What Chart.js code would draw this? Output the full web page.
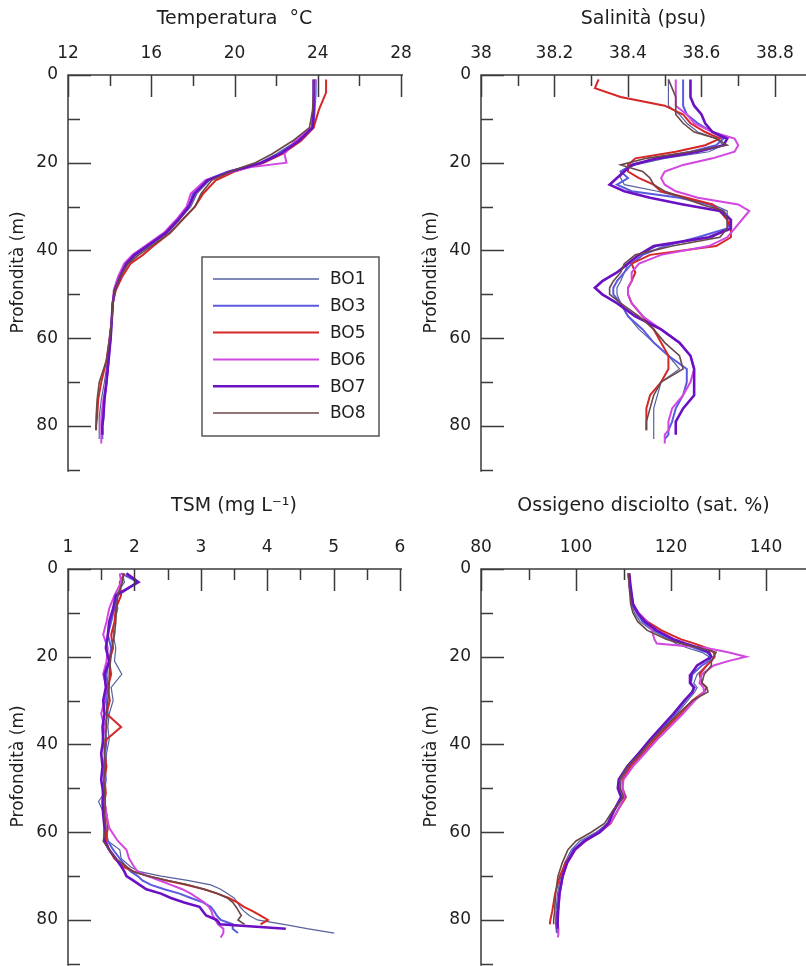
<!DOCTYPE html>
<html lang="it">
<head>
<meta charset="UTF-8">
<title>Profili BO</title>
<script src="https://cdn.jsdelivr.net/npm/chart.js@4"></script>
<style>
  html, body { margin: 0; padding: 0; background: #fff; overflow: hidden; }
  #wrap { position: relative; width: 806px; height: 966px; overflow: hidden; background: #fff; }
  canvas { position: absolute; }
</style>
</head>
<body>
<div id="wrap">
  <canvas id="cTemp" width="425" height="490" style="left:0px;top:0px"></canvas>
  <canvas id="cSal" width="393" height="490" style="left:413px;top:0px"></canvas>
  <canvas id="cTsm" width="425" height="495" style="left:0px;top:489px"></canvas>
  <canvas id="cOxy" width="393" height="495" style="left:413px;top:489px"></canvas>
</div>
<script>
// stations
var stationNames = ['BO1', 'BO3', 'BO5', 'BO6', 'BO7', 'BO8'];
var stationColors = ['#56619f', '#5a5ae0', '#d62626', '#d246e2', '#6c10c4', '#6b4848'];
var stationWidths = [1.2, 2, 2, 2, 2.6, 1.6];

// depth axis (m)
var depthTicks = [0, 10, 20, 30, 40, 50, 60, 70, 80, 90];
var depthLabels = [0, 20, 40, 60, 80];

// Temperatura °C
var tempTicks = [12, 14, 16, 18, 20, 22, 24, 26, 28];
var tempLabels = [12, 16, 20, 24, 28];
var depthTemp = [1, 4, 8, 12, 15, 18, 20, 21, 22, 24, 27, 30, 33, 36, 39, 41, 43, 46, 49, 52, 56, 60, 65, 70, 74, 78, 80, 81, 82, 83, 84];
var tempBO1 = [23.85, 23.85, 23.8, 23.75, 23.0, 22.0, 21.2, 20.6, 19.9, 18.8, 18.2, 17.9, 17.35, 16.8, 15.9, 15.3, 14.85, 14.5, 14.25, 14.15, 14.1, 14.0, 13.9, 13.75, 13.6, 13.5, 13.5, 13.5, 13.5, 13.5];
var tempBO3 = [23.9, 23.9, 23.85, 23.8, 23.1, 22.1, 21.3, 20.5, 19.7, 18.6, 18.0, 17.8, 17.3, 16.7, 15.8, 15.2, 14.8, 14.45, 14.25, 14.15, 14.1, 14.05, 13.95, 13.85, 13.75, 13.7, 13.65, 13.65, 13.65, 13.65];
var tempBO5 = [24.4, 24.4, 24.05, 23.8, 23.2, 22.3, 21.4, 20.7, 20.0, 19.1, 18.5, 18.1, 17.5, 16.9, 16.1, 15.6, 15.0, 14.6, 14.3, 14.15, 14.1, 14.0, 13.85, 13.6, 13.45, 13.4, 13.35, 13.35];
var tempBO6 = [23.9, 23.85, 23.8, 23.7, 22.9, 22.4, 22.5, 20.8, 19.9, 18.6, 17.9, 17.7, 17.2, 16.6, 15.7, 15.1, 14.7, 14.4, 14.2, 14.15, 14.1, 14.0, 13.95, 13.85, 13.7, 13.6, 13.6, 13.6, 13.6, 13.6, 13.6];
var tempBO7 = [23.8, 23.8, 23.8, 23.75, 23.1, 22.2, 21.3, 20.6, 19.8, 18.7, 18.1, 17.8, 17.3, 16.7, 15.8, 15.2, 14.8, 14.5, 14.25, 14.15, 14.1, 14.05, 13.95, 13.85, 13.75, 13.7, 13.65, 13.65, 13.65];
var tempBO8 = [23.8, 23.8, 23.75, 23.6, 22.8, 21.8, 21.0, 20.4, 19.8, 18.9, 18.4, 18.1, 17.5, 16.9, 16.0, 15.4, 14.9, 14.5, 14.25, 14.15, 14.1, 14.0, 13.85, 13.5, 13.4, 13.35, 13.35, 13.35];

// Salinità (psu)
var salTicks = [38, 38.1, 38.2, 38.3, 38.4, 38.5, 38.6, 38.7, 38.8];
var salLabels = [38, 38.2, 38.4, 38.6, 38.8];
var depthSal = [1, 3, 5, 7, 9, 11, 13, 14.5, 16, 17.5, 19, 20.5, 22, 23.5, 25, 26.5, 28, 29.5, 31, 33, 35, 37, 39, 41, 43, 45, 47, 48.5, 50, 52, 55, 58, 61, 64, 67, 70, 73, 76, 79, 81, 82, 83, 84];
var salBO1 = [38.51, 38.51, 38.51, 38.51, 38.54, 38.56, 38.59, 38.64, 38.66, 38.62, 38.50, 38.42, 38.38, 38.38, 38.39, 38.48, 38.55, 38.63, 38.67, 38.67, 38.67, 38.63, 38.48, 38.43, 38.40, 38.39, 38.38, 38.37, 38.37, 38.38, 38.40, 38.43, 38.47, 38.51, 38.54, 38.49, 38.48, 38.47, 38.47, 38.47, 38.47, 38.47];
var salBO3 = [38.55, 38.55, 38.55, 38.55, 38.56, 38.59, 38.63, 38.66, 38.64, 38.57, 38.48, 38.41, 38.38, 38.40, 38.37, 38.41, 38.54, 38.62, 38.66, 38.68, 38.67, 38.59, 38.50, 38.44, 38.41, 38.39, 38.37, 38.36, 38.36, 38.38, 38.40, 38.44, 38.47, 38.51, 38.56, 38.56, 38.55, 38.53, 38.52, 38.51, 38.51, 38.50];
var salBO5 = [38.32, 38.31, 38.38, 38.50, 38.55, 38.57, 38.61, 38.65, 38.61, 38.53, 38.42, 38.40, 38.40, 38.43, 38.47, 38.49, 38.56, 38.63, 38.65, 38.67, 38.68, 38.68, 38.64, 38.46, 38.41, 38.42, 38.41, 38.40, 38.40, 38.41, 38.44, 38.47, 38.49, 38.51, 38.51, 38.49, 38.46, 38.45, 38.45, 38.45];
var salBO6 = [38.53, 38.53, 38.53, 38.53, 38.56, 38.58, 38.63, 38.69, 38.70, 38.69, 38.63, 38.55, 38.50, 38.49, 38.50, 38.53, 38.59, 38.70, 38.73, 38.71, 38.69, 38.67, 38.62, 38.49, 38.43, 38.41, 38.41, 38.40, 38.40, 38.41, 38.44, 38.49, 38.54, 38.57, 38.58, 38.57, 38.55, 38.52, 38.51, 38.51, 38.50, 38.50, 38.50];
var salBO7 = [38.57, 38.57, 38.57, 38.58, 38.60, 38.61, 38.63, 38.67, 38.66, 38.59, 38.48, 38.41, 38.39, 38.37, 38.35, 38.39, 38.46, 38.55, 38.65, 38.68, 38.68, 38.62, 38.47, 38.43, 38.40, 38.37, 38.33, 38.31, 38.33, 38.37, 38.42, 38.49, 38.54, 38.57, 38.58, 38.58, 38.58, 38.55, 38.53, 38.53, 38.53];
var salBO8 = [38.51, 38.52, 38.53, 38.53, 38.53, 38.55, 38.58, 38.64, 38.67, 38.57, 38.45, 38.38, 38.44, 38.46, 38.47, 38.50, 38.55, 38.60, 38.66, 38.67, 38.67, 38.65, 38.52, 38.42, 38.39, 38.38, 38.36, 38.35, 38.35, 38.38, 38.43, 38.47, 38.50, 38.54, 38.55, 38.49, 38.47, 38.46, 38.45, 38.45];

// TSM (mg L-1)
var tsmTicks = [1, 1.5, 2, 2.5, 3, 3.5, 4, 4.5, 5, 5.5, 6];
var tsmLabels = [1, 2, 3, 4, 5, 6];
var depthTsm = [1, 3, 6, 9, 12, 15, 18, 21, 24, 27, 30, 33, 36, 39, 42, 45, 48, 51, 53, 56, 59, 62, 64, 66, 68, 69, 70, 71, 72, 73, 74, 75, 76, 77, 78, 79, 80, 81, 82, 83, 84];
var tsmBO1 = [1.82, 1.85, 1.72, 1.75, 1.70, 1.68, 1.72, 1.70, 1.81, 1.65, 1.68, 1.62, 1.60, 1.62, 1.58, 1.57, 1.56, 1.55, 1.46, 1.55, 1.57, 1.60, 1.78, 1.80, 1.95, 2.08, 2.40, 2.80, 3.15, 3.30, 3.40, 3.50, 3.55, 3.59, 3.65, 3.73, 3.85, 4.25, 4.60, 5.01];
var tsmBO3 = [1.80, 2.05, 1.75, 1.70, 1.65, 1.60, 1.65, 1.62, 1.58, 1.60, 1.57, 1.60, 1.55, 1.58, 1.56, 1.55, 1.57, 1.54, 1.56, 1.55, 1.56, 1.60, 1.68, 1.78, 1.88, 1.95, 2.05, 2.12, 2.25, 2.45, 2.68, 2.85, 3.03, 3.15, 3.20, 3.24, 3.30, 3.48, 3.48, 3.56];
var tsmBO5 = [1.85, 1.78, 1.80, 1.72, 1.70, 1.65, 1.68, 1.62, 1.65, 1.60, 1.63, 1.58, 1.80, 1.57, 1.55, 1.58, 1.55, 1.57, 1.55, 1.58, 1.60, 1.57, 1.62, 1.70, 1.85, 2.00, 2.20, 2.48, 2.78, 3.05, 3.25, 3.42, 3.55, 3.65, 3.78, 3.90, 4.01, 3.90];
var tsmBO6 = [1.78, 1.80, 1.70, 1.62, 1.58, 1.53, 1.60, 1.58, 1.53, 1.58, 1.55, 1.50, 1.55, 1.52, 1.56, 1.53, 1.55, 1.52, 1.55, 1.58, 1.62, 1.75, 1.88, 1.92, 2.00, 2.05, 2.20, 2.38, 2.55, 2.72, 2.85, 2.95, 3.05, 3.12, 3.16, 3.18, 3.22, 3.26, 3.34, 3.34, 3.30];
var tsmBO7 = [1.88, 2.06, 1.72, 1.68, 1.62, 1.60, 1.57, 1.62, 1.55, 1.57, 1.53, 1.55, 1.52, 1.53, 1.50, 1.52, 1.50, 1.53, 1.52, 1.53, 1.55, 1.55, 1.62, 1.72, 1.81, 1.85, 1.88, 1.98, 2.08, 2.18, 2.40, 2.55, 2.75, 2.98, 3.03, 3.08, 3.24, 3.29, 4.28];
var tsmBO8 = [1.84, 1.82, 1.75, 1.73, 1.72, 1.70, 1.66, 1.64, 1.62, 1.62, 1.60, 1.58, 1.58, 1.56, 1.55, 1.56, 1.54, 1.55, 1.56, 1.55, 1.57, 1.53, 1.62, 1.72, 1.90, 1.98, 2.20, 2.50, 2.80, 3.05, 3.25, 3.40, 3.48, 3.53, 3.57, 3.61, 3.56, 3.66];

// Ossigeno disciolto (sat. %)
var oxyTicks = [80, 90, 100, 110, 120, 130, 140];
var oxyLabels = [80, 100, 120, 140];
var depthOxy = [1, 4, 8, 10, 12, 14, 16, 17, 18, 19, 20, 21, 22, 24, 26, 27, 28, 30, 33, 36, 39, 42, 45, 48, 50, 52, 55, 58, 60, 62, 64, 67, 70, 74, 78, 80, 81, 82, 83, 84];
var oxyBO1 = [111.0, 111.2, 111.7, 112.3, 113.5, 116.0, 119.5, 121.0, 123.5, 126.5, 128.0, 128.5, 127.5, 125.5, 124.8, 125.5, 125.0, 123.5, 121.2, 118.6, 116.0, 113.8, 111.2, 109.5, 109.3, 110.0, 108.2, 106.8, 104.2, 100.8, 99.0, 97.6, 96.8, 96.1, 95.8, 95.7, 95.7, 95.8, 95.9];
var oxyBO3 = [111.0, 111.3, 111.8, 112.8, 114.0, 116.5, 120.0, 122.5, 125.0, 127.5, 128.5, 128.0, 126.5, 124.5, 124.2, 125.0, 124.5, 123.0, 120.8, 118.3, 115.7, 113.5, 111.0, 109.2, 109.0, 109.6, 108.0, 106.6, 104.6, 101.5, 99.4, 98.0, 97.2, 96.5, 96.2, 96.1, 96.1, 96.1, 96.2];
var oxyBO5 = [111.2, 111.4, 112.0, 113.0, 115.0, 118.0, 122.0, 125.0, 127.5, 129.0, 129.2, 128.5, 127.5, 126.0, 126.5, 127.5, 127.0, 124.5, 122.0, 119.2, 116.5, 114.2, 111.5, 109.8, 109.8, 110.5, 108.8, 107.3, 105.0, 102.0, 99.8, 97.8, 96.6, 95.6, 95.0, 94.6, 94.5];
var oxyBO6 = [111.0, 111.3, 112.0, 113.2, 115.0, 116.0, 116.5, 117.0, 127.5, 132.0, 135.8, 132.0, 129.0, 126.5, 126.0, 126.8, 127.0, 125.0, 122.5, 119.8, 117.0, 114.5, 112.0, 110.0, 109.8, 110.2, 108.8, 107.2, 105.0, 102.0, 99.9, 98.2, 97.2, 96.6, 96.3, 96.2, 96.2, 96.3, 96.3, 96.2];
var oxyBO7 = [111.2, 111.5, 112.0, 113.0, 114.5, 117.0, 120.5, 123.0, 126.0, 128.0, 128.5, 127.0, 125.5, 124.2, 124.0, 124.8, 124.5, 122.8, 120.5, 118.0, 115.5, 113.2, 110.8, 109.0, 108.8, 109.5, 108.0, 106.8, 105.0, 101.8, 99.7, 98.1, 97.2, 96.5, 96.2, 96.1, 96.1, 96.1];
var oxyBO8 = [111.0, 111.2, 111.5, 112.0, 113.0, 115.0, 119.0, 122.0, 126.0, 129.5, 129.0, 128.5, 128.5, 127.0, 126.5, 127.5, 127.8, 124.5, 121.5, 118.8, 116.0, 113.6, 110.8, 109.2, 109.3, 110.0, 107.8, 106.0, 103.2, 100.0, 98.3, 97.1, 96.2, 95.7, 95.5, 95.3, 95.3];

var fontFamily = '"DejaVu Sans", Verdana, sans-serif';
var textColor = '#1e1e1e';
var axisColor = '#3a3a3a';

function profile(depths, values) {
    return values.map((v, i) => ({ x: v, y: depths[i] }));
}

function makeDatasets(depths, series) {
    return series.map((vals, i) => ({
        label: stationNames[i],
        data: profile(depths, vals),
        borderColor: stationColors[i],
        backgroundColor: stationColors[i],
        borderWidth: stationWidths[i],
        showLine: true,
        pointRadius: 0,
        tension: 0,
        fill: false,
        order: 6 - i
    }));
}

// ticks drawn inside the plot, long for labelled values, short otherwise
var inwardAxes = {
    id: 'inwardAxes',
    afterDatasetsDraw(chart) {
        var ctx = chart.ctx, area = chart.chartArea;
        var xs = chart.scales.x, ys = chart.scales.y;
        ctx.save();
        ctx.strokeStyle = axisColor;
        ctx.lineWidth = 1.5;
        ctx.beginPath();
        ctx.moveTo(area.left, area.bottom + 2);
        ctx.lineTo(area.left, area.top);
        ctx.lineTo(area.right + 2, area.top);
        xs.ticks.forEach(t => {
            var px = Math.round(xs.getPixelForValue(t.value)) + 0.5;
            var len = t.label ? 22 : 11;
            ctx.moveTo(px, area.top);
            ctx.lineTo(px, area.top + len);
        });
        ys.ticks.forEach(t => {
            var py = Math.round(ys.getPixelForValue(t.value)) + 0.5;
            var len = t.label ? 23 : 12;
            ctx.moveTo(area.left, py);
            ctx.lineTo(area.left + len, py);
        });
        ctx.stroke();
        ctx.restore();
    }
};

var boxLegend = {
    id: 'boxLegend',
    afterDraw(chart, args, opts) {
        if (!opts.show) return;
        var ctx = chart.ctx;
        ctx.save();
        ctx.fillStyle = '#fff';
        ctx.fillRect(opts.left, opts.top, opts.width, opts.height);
        ctx.strokeStyle = '#555';
        ctx.lineWidth = 1.5;
        ctx.strokeRect(opts.left, opts.top, opts.width, opts.height);
        ctx.font = '17px ' + fontFamily;
        ctx.textBaseline = 'middle';
        ctx.fillStyle = textColor;
        chart.data.datasets.forEach((ds, i) => {
            var y = opts.top + 22 + i * 26.8;
            ctx.strokeStyle = ds.borderColor;
            ctx.lineWidth = Math.max(ds.borderWidth, 1.6);
            ctx.beginPath();
            ctx.moveTo(opts.left + 11, y);
            ctx.lineTo(opts.left + 117, y);
            ctx.stroke();
            ctx.fillText(ds.label, opts.left + 128, y + 1);
        });
        ctx.restore();
    }
};

function panelOptions(cfg) {
    return {
        responsive: false,
        animation: false,
        events: [],
        layout: { padding: cfg.padding },
        plugins: {
            legend: { display: false },
            tooltip: { enabled: false },
            boxLegend: cfg.legend || { show: false }
        },
        scales: {
            x: {
                type: 'linear',
                position: 'top',
                min: cfg.xMin,
                max: cfg.xMax,
                afterBuildTicks: s => { s.ticks = cfg.xTicks.map(v => ({ value: v })); },
                afterFit: s => { s.height = cfg.xHeight; },
                grid: { display: false, drawTicks: false },
                border: { display: false },
                ticks: {
                    autoSkip: false,
                    maxRotation: 0,
                    padding: 11,
                    color: textColor,
                    font: { family: fontFamily, size: 17 },
                    callback: v => cfg.xLabels.includes(v) ? String(v) : ''
                },
                title: {
                    display: true,
                    text: cfg.title,
                    color: textColor,
                    font: { family: fontFamily, size: 19 },
                    padding: { top: cfg.titlePad, bottom: 0 }
                }
            },
            y: {
                type: 'linear',
                reverse: true,
                min: 0,
                max: 90,
                afterBuildTicks: s => { s.ticks = depthTicks.map(v => ({ value: v })); },
                afterFit: s => { s.width = 68; },
                grid: { display: false, drawTicks: false },
                border: { display: false },
                ticks: {
                    autoSkip: false,
                    padding: 10,
                    color: textColor,
                    font: { family: fontFamily, size: 17 },
                    callback: v => depthLabels.includes(v) ? String(v) : ''
                },
                title: {
                    display: true,
                    text: 'Profondità (m)',
                    color: textColor,
                    font: { family: fontFamily, size: 17 },
                    padding: { top: 8, bottom: 0 }
                }
            }
        }
    };
}

new Chart(document.getElementById('cTemp').getContext('2d'), {
    type: 'scatter',
    data: { datasets: makeDatasets(depthTemp, [tempBO1, tempBO3, tempBO5, tempBO6, tempBO7, tempBO8]) },
    options: panelOptions({
        title: 'Temperatura  °C', xMin: 12, xMax: 28, xTicks: tempTicks, xLabels: tempLabels,
        xHeight: 75, titlePad: 8, padding: { left: 0, top: 0, right: 24, bottom: 16 },
        legend: { show: true, left: 202, top: 257, width: 177, height: 179 }
    }),
    plugins: [inwardAxes, boxLegend]
});

new Chart(document.getElementById('cSal').getContext('2d'), {
    type: 'scatter',
    data: { datasets: makeDatasets(depthSal, [salBO1, salBO3, salBO5, salBO6, salBO7, salBO8]) },
    options: panelOptions({
        title: 'Salinità (psu)', xMin: 38, xMax: 38.8844, xTicks: salTicks, xLabels: salLabels,
        xHeight: 75, titlePad: 8, padding: { left: 0, top: 0, right: 0, bottom: 16 }
    }),
    plugins: [inwardAxes]
});

new Chart(document.getElementById('cTsm').getContext('2d'), {
    type: 'scatter',
    data: { datasets: makeDatasets(depthTsm, [tsmBO1, tsmBO3, tsmBO5, tsmBO6, tsmBO7, tsmBO8]) },
    options: panelOptions({
        title: 'TSM (mg L⁻¹)', xMin: 1, xMax: 6, xTicks: tsmTicks, xLabels: tsmLabels,
        xHeight: 80, titlePad: 6, padding: { left: 0, top: 0, right: 25, bottom: 16 }
    }),
    plugins: [inwardAxes]
});

new Chart(document.getElementById('cOxy').getContext('2d'), {
    type: 'scatter',
    data: { datasets: makeDatasets(depthOxy, [oxyBO1, oxyBO3, oxyBO5, oxyBO6, oxyBO7, oxyBO8]) },
    options: panelOptions({
        title: 'Ossigeno disciolto (sat. %)', xMin: 80, xMax: 148.42, xTicks: oxyTicks, xLabels: oxyLabels,
        xHeight: 80, titlePad: 6, padding: { left: 0, top: 0, right: 0, bottom: 16 }
    }),
    plugins: [inwardAxes]
});
</script>
</body>
</html>
